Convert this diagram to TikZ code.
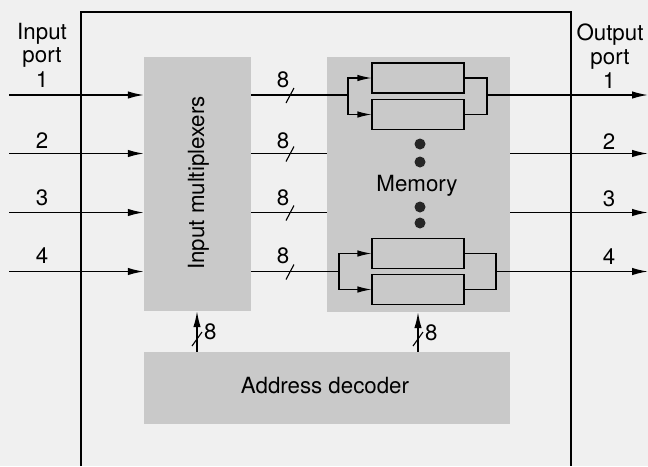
\documentclass[tikz,border=0pt]{standalone}
\usepackage{fontspec}
\setmainfont{TeX Gyre Heros}
\usetikzlibrary{arrows.meta}
\begin{document}
\begin{tikzpicture}[x=1pt,y=-1pt,
  lbl/.style={font=\fontsize{22.3}{25}\selectfont, inner sep=0pt, anchor=base},
  shadebox/.style={fill=black!21, draw=none, inner sep=0pt},
  wire/.style={line width=1.5pt},
  thinw/.style={line width=1.1pt},
  frame/.style={line width=2.2pt},
  bigarr/.style={-{Latex[length=16pt,width=7.5pt]}},
  smallarr/.style={-{Latex[length=14pt,width=6.5pt]}},
  reg/.style={draw, line width=1.1pt, fill=black!21, minimum width=92pt, minimum height=30pt, inner sep=0pt},
  memdot/.style={circle, fill=black!85, minimum size=11pt, inner sep=0pt}]
\fill[black!6] (0,0) rectangle (648,466);
\useasboundingbox (0,0) rectangle (648,466);
% outer frame
\coordinate (fbl) at (81,466);
\coordinate (ftl) at (81,12);
\coordinate (ftr) at (571,12);
\coordinate (fbr) at (571,466);
\draw[frame] (fbl) -- (ftl) -- (ftr) -- (fbr);
% blocks
\node[shadebox, minimum width=107pt, minimum height=254pt] (mux) at (197.5,184) {};
\node[shadebox, minimum width=183pt, minimum height=255pt] (mem) at (418.5,184.5) {};
\node[shadebox, minimum width=366pt, minimum height=72pt] (dec) at (327,388) {};
\node[lbl, rotate=90] (muxl) at (204,183) {Input multiplexers};
\node[lbl] (decl) at (325,393) {Address decoder};
\node[lbl] (meml) at (417,191) {Memory};
% registers
\node[reg] (r1) at (418,78) {};
\node[reg] (r2) at (418,114.5) {};
\node[reg] (r3) at (418,253.5) {};
\node[reg] (r4) at (418,289.5) {};
\node[memdot] (d1) at (420,144) {};
\node[memdot] (d2) at (420,162) {};
\node[memdot] (d3) at (420,207) {};
\node[memdot] (d4) at (420,223) {};
% port labels
\node[lbl] (inl1) at (42,39) {Input};
\node[lbl] (inl2) at (42,62.5) {port};
\node[lbl] (outl1) at (610,40.5) {Output};
\node[lbl] (outl2) at (610,64.5) {port};
% rows
\foreach \i/\y/\b in {1/95/87, 2/153.5/148, 3/212.5/205, 4/271.5/263}{
  \coordinate (in\i) at (9,\y);
  \coordinate (out\i) at (648,\y);
  \node[lbl] (inn\i) at (42,\b) {\i};
  \node[lbl] (outn\i) at (609,\b+1) {\i};
  \node[lbl] (bus\i) at (283,\b) {8};
  \draw[wire,bigarr] (in\i) -- (mux.west |- in\i);
  \draw[wire] (mux.east |- in\i) -- (mem.west |- in\i);
  \draw[wire,bigarr] (mem.east |- in\i) -- (out\i);
  \coordinate (sa\i) at (286,\y+8);
  \coordinate (sb\i) at (294,\y-7);
  \draw[thinw] (sa\i) -- (sb\i);
}
% top register pair
\coordinate (f1) at (348,95);
\coordinate (g1) at (487,95);
\draw[thinw] (mem.west |- f1) -- (f1);
\draw[thinw,smallarr] (f1) |- (r1.west);
\draw[thinw,smallarr] (f1) |- (r2.west);
\draw[thinw] (r1.east) -| (g1);
\draw[thinw] (r2.east) -| (g1);
\draw[thinw] (g1) -- (mem.east |- g1);
% bottom register pair
\coordinate (f4) at (339,271.5);
\coordinate (g4) at (496,271.5);
\draw[thinw] (mem.west |- f4) -- (f4);
\draw[thinw,smallarr] (f4) |- (r3.west);
\draw[thinw,smallarr] (f4) |- (r4.west);
\draw[thinw] (r3.east) -| (g4);
\draw[thinw] (r4.east) -| (g4);
\draw[thinw] (g4) -- (mem.east |- g4);
% address buses
\coordinate (am) at (197,311);
\coordinate (aq) at (418,312);
\draw[wire,bigarr] (dec.north -| am) -- (mux.south -| am);
\draw[wire,bigarr] (dec.north -| aq) -- (mem.south -| aq);
\coordinate (s1a) at (192,346);
\coordinate (s1b) at (202,332);
\draw[thinw] (s1a) -- (s1b);
\coordinate (s2a) at (413,346);
\coordinate (s2b) at (423,332);
\draw[thinw] (s2a) -- (s2b);
\node[lbl, anchor=base west] (a8) at (204,339) {8};
\node[lbl, anchor=base west] (m8) at (425,340) {8};
\end{tikzpicture}
\end{document}
